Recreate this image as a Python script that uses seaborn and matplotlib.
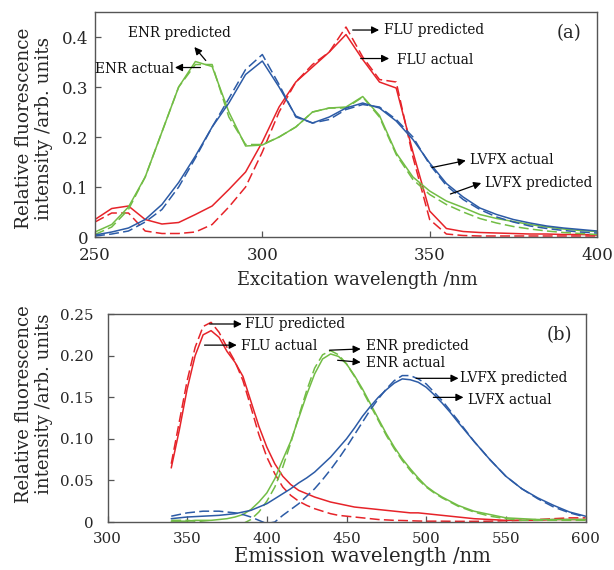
import matplotlib
matplotlib.use("Agg")
import matplotlib.pyplot as plt
import seaborn as sns
import numpy as np
import pandas as pd

# ---------------- data: panel (a) excitation ----------------
ex_wl = [250, 255, 260, 265, 270, 275, 280, 285, 290, 295, 300, 305, 310, 315, 320,
         325, 330, 335, 340, 345, 350, 355, 360, 365, 370, 375, 380, 385, 390, 395, 400]
ex_flu_actual = [0.035, 0.057, 0.062, 0.035, 0.026, 0.029, 0.045, 0.062, 0.095, 0.13, 0.19,
                 0.26, 0.31, 0.34, 0.37, 0.405, 0.355, 0.31, 0.298, 0.17, 0.052, 0.017, 0.011,
                 0.009, 0.008, 0.007, 0.006, 0.006, 0.005, 0.005, 0.004]
ex_flu_pred = [0.03, 0.048, 0.048, 0.012, 0.007, 0.007, 0.01, 0.025, 0.06, 0.1, 0.17,
               0.25, 0.31, 0.345, 0.37, 0.42, 0.36, 0.315, 0.31, 0.16, 0.035, 0.006, 0.003,
               0.002, 0.002, 0.002, 0.002, 0.002, 0.002, 0.002, 0.002]
ex_enr_actual = [0.01, 0.025, 0.06, 0.12, 0.21, 0.3, 0.351, 0.341, 0.25, 0.182, 0.184,
                 0.2, 0.22, 0.25, 0.258, 0.26, 0.281, 0.243, 0.168, 0.12, 0.092, 0.072,
                 0.059, 0.045, 0.037, 0.031, 0.025, 0.02, 0.016, 0.013, 0.011]
ex_enr_pred = [0.005, 0.02, 0.055, 0.12, 0.21, 0.3, 0.345, 0.345, 0.24, 0.185, 0.185,
               0.2, 0.22, 0.25, 0.258, 0.258, 0.28, 0.24, 0.165, 0.115, 0.085, 0.065,
               0.05, 0.037, 0.028, 0.021, 0.016, 0.012, 0.009, 0.007, 0.005]
ex_lvfx_actual = [0.004, 0.01, 0.018, 0.035, 0.065, 0.109, 0.162, 0.22, 0.268, 0.325, 0.352,
                  0.3, 0.242, 0.228, 0.24, 0.258, 0.268, 0.258, 0.232, 0.195, 0.148, 0.107,
                  0.08, 0.058, 0.045, 0.035, 0.028, 0.022, 0.018, 0.015, 0.012]
ex_lvfx_pred = [0.002, 0.006, 0.012, 0.03, 0.055, 0.1, 0.158, 0.22, 0.277, 0.335, 0.365,
                0.305, 0.24, 0.228, 0.235, 0.255, 0.265, 0.26, 0.235, 0.2, 0.145, 0.103,
                0.075, 0.055, 0.04, 0.03, 0.022, 0.017, 0.013, 0.01, 0.008]

# ---------------- data: panel (b) emission ----------------
em_wl = [340, 345, 350, 355, 360, 365, 370, 375, 380, 385, 390, 395, 400, 405, 410, 415,
         420, 425, 430, 435, 440, 445, 450, 455, 460, 465, 470, 475, 480, 485, 490, 495,
         500, 505, 510, 515, 520, 530, 540, 550, 560, 570, 580, 590, 600]
em_flu_actual = [0.065, 0.11, 0.16, 0.2, 0.225, 0.23, 0.222, 0.205, 0.192, 0.175, 0.145,
                 0.115, 0.09, 0.07, 0.055, 0.045, 0.038, 0.034, 0.03, 0.027, 0.024, 0.022,
                 0.02, 0.018, 0.017, 0.016, 0.015, 0.014, 0.013, 0.012, 0.011, 0.011,
                 0.01, 0.009, 0.008, 0.007, 0.006, 0.004, 0.003, 0.002, 0.002, 0.002,
                 0.003, 0.003, 0.003]
em_flu_pred = [0.07, 0.12, 0.17, 0.21, 0.235, 0.24, 0.228, 0.21, 0.193, 0.17, 0.138,
               0.105, 0.078, 0.058, 0.042, 0.032, 0.025, 0.02, 0.016, 0.013, 0.01, 0.008,
               0.007, 0.006, 0.005, 0.004, 0.003, 0.0025, 0.002, 0.0018, 0.0015, 0.0012,
               0.001, 0.001, 0.001, 0.0009, 0.0008, 0.0008, 0.001, 0.0015, 0.002, 0.003,
               0.004, 0.005, 0.005]
em_enr_actual = [0.001, 0.001, 0.001, 0.002, 0.002, 0.002, 0.003, 0.004, 0.006, 0.009,
                 0.015, 0.024, 0.035, 0.052, 0.075, 0.097, 0.125, 0.153, 0.178, 0.196,
                 0.202, 0.199, 0.19, 0.176, 0.16, 0.142, 0.124, 0.106, 0.09, 0.076, 0.064,
                 0.053, 0.043, 0.036, 0.03, 0.025, 0.02, 0.013, 0.009, 0.005, 0.004,
                 0.003, 0.003, 0.003, 0.003]
em_enr_pred = [0.002, 0.002, 0.002, 0.001, 0.0, -0.001, -0.002, -0.003, -0.003, -0.002,
               0.003, 0.012, 0.025, 0.042, 0.066, 0.095, 0.127, 0.158, 0.185, 0.201,
               0.206, 0.201, 0.19, 0.175, 0.158, 0.14, 0.122, 0.104, 0.088, 0.074, 0.062,
               0.051, 0.042, 0.035, 0.029, 0.024, 0.019, 0.012, 0.007, 0.004, 0.002,
               0.002, 0.002, 0.002, 0.002]
em_lvfx_actual = [0.004, 0.005, 0.006, 0.0065, 0.007, 0.0075, 0.008, 0.009, 0.01, 0.012,
                  0.014, 0.018, 0.022, 0.028, 0.034, 0.04, 0.047, 0.053, 0.06, 0.069,
                  0.078, 0.089, 0.1, 0.113, 0.127, 0.139, 0.15, 0.159, 0.167, 0.172,
                  0.171, 0.168, 0.162, 0.153, 0.143, 0.132, 0.12, 0.097, 0.075, 0.055,
                  0.04, 0.029, 0.02, 0.012, 0.007]
em_lvfx_pred = [0.007, 0.009, 0.011, 0.012, 0.013, 0.013, 0.013, 0.012, 0.011, 0.009,
                0.006, 0.002, -0.002, 0.0, 0.008, 0.015, 0.022, 0.031, 0.04, 0.051,
                0.063, 0.076, 0.09, 0.105, 0.12, 0.135, 0.148, 0.16, 0.17, 0.176,
                0.176, 0.172, 0.166, 0.156, 0.146, 0.134, 0.122, 0.097, 0.075, 0.055,
                0.04, 0.028, 0.018, 0.011, 0.006]

ex_yticks = [0, 0.1, 0.2, 0.3, 0.4]
ex_yticklabels = ["0", "0.1", "0.2", "0.3", "0.4"]
ex_xticks = [250, 300, 350, 400]
em_yticks = [0, 0.05, 0.10, 0.15, 0.20, 0.25]
em_yticklabels = ["0", "0.05", "0.10", "0.15", "0.20", "0.25"]
em_xticks = [300, 350, 400, 450, 500, 550, 600]

RED = "#e62329"
GREEN = "#72bd45"
BLUE = "#2c5ba6"

sns.set_style("ticks")
plt.rcParams["font.family"] = ["DejaVu Serif"]
plt.rcParams["mathtext.fontset"] = "dejavuserif"

fig = plt.figure(figsize=(6.14, 5.70), dpi=100)
ax1 = fig.add_axes([0.1547, 0.5842, 0.8176, 0.3947])
ax2 = fig.add_axes([0.1751, 0.0842, 0.7785, 0.3649])

DASH = (0, (6.5, 2.8))
LW = 1.1

def draw(ax, x, series):
    for y, color, ls in series:
        sns.lineplot(x=x, y=y, ax=ax, color=color, linewidth=LW,
                     estimator=None, sort=False)
        ax.lines[-1].set_linestyle(ls)

draw(ax1, ex_wl, [
    (ex_flu_actual, RED, "-"), (ex_flu_pred, RED, DASH),
    (ex_enr_actual, GREEN, "-"), (ex_enr_pred, GREEN, DASH),
    (ex_lvfx_actual, BLUE, "-"), (ex_lvfx_pred, BLUE, DASH),
])
draw(ax2, em_wl, [
    (em_flu_actual, RED, "-"), (em_flu_pred, RED, DASH),
    (em_enr_actual, GREEN, "-"), (em_enr_pred, GREEN, DASH),
    (em_lvfx_actual, BLUE, "-"), (em_lvfx_pred, BLUE, DASH),
])

ANN_FS = 9.8
SPINE = "#555555"
YLAB = "Relative fluorescence\nintensity /arb. units"

for ax in (ax1, ax2):
    for s in ax.spines.values():
        s.set_visible(True)
        s.set_color(SPINE)
        s.set_linewidth(1.0)

ax1.tick_params(direction="in", length=4, width=0.9, color=SPINE, labelsize=12)
ax1.tick_params(axis="x", pad=7)
ax1.tick_params(axis="y", pad=5)
ax2.tick_params(direction="in", length=4, width=0.9, color=SPINE, labelsize=10.8)
ax2.tick_params(axis="x", pad=7)
ax2.tick_params(axis="y", pad=10)

ax1.set_xlim(250, 400)
ax1.set_ylim(0, 0.45)
ax1.set_xticks(ex_xticks)
ax1.set_xticklabels([str(v) for v in ex_xticks])
ax1.set_yticks(ex_yticks)
ax1.set_yticklabels(ex_yticklabels)
ax1.set_xlabel("Excitation wavelength /nm", fontsize=12.9)
ax1.set_ylabel(YLAB, fontsize=13.3, linespacing=1.15)

ax2.set_xlim(300, 600)
ax2.set_ylim(0, 0.25)
ax2.set_xticks(em_xticks)
ax2.set_xticklabels([str(v) for v in em_xticks])
ax2.set_yticks(em_yticks)
ax2.set_yticklabels(em_yticklabels)
ax2.set_xlabel("Emission wavelength /nm", fontsize=14.2)
ax2.set_ylabel(YLAB, fontsize=13.1, linespacing=1.15)

ax1.xaxis.set_label_coords(0.523, -0.15)
ax2.xaxis.set_label_coords(0.533, -0.12)
ax1.yaxis.set_label_coords(-0.084, 0.482)
ax2.yaxis.set_label_coords(-0.114, 0.567)

arrow = dict(arrowstyle="-|>", color="black", lw=0.9, mutation_scale=11,
             shrinkA=0, shrinkB=0)

def label(ax, text, tail, head, tx, ty, ha="left"):
    ax.annotate("", xy=head, xytext=tail, arrowprops=arrow)
    ax.text(tx, ty, text, fontsize=ANN_FS, ha=ha, va="center", color="#111111")

# panel (a) annotations
label(ax1, "ENR predicted", (283.1, 0.353), (279.7, 0.380), 275.3, 0.408, ha="center")
label(ax1, "ENR actual", (281.5, 0.339), (273.9, 0.339), 273.6, 0.337, ha="right")
label(ax1, "FLU predicted", (327.0, 0.414), (334.9, 0.414), 336.4, 0.414)
label(ax1, "FLU actual", (329.4, 0.357), (337.9, 0.357), 340.1, 0.355)
label(ax1, "LVFX actual", (350.7, 0.139), (360.8, 0.153), 362.0, 0.155)
label(ax1, "LVFX predicted", (356.2, 0.086), (365.4, 0.108), 366.6, 0.108)
ax1.text(387.9, 0.408, "(a)", fontsize=13, ha="left", va="center")

# panel (b) annotations
label(ax2, "FLU predicted", (364.1, 0.238), (384.3, 0.238), 386.2, 0.238)
label(ax2, "FLU actual", (360.9, 0.2126), (381.1, 0.2126), 383.7, 0.211)
label(ax2, "ENR predicted", (439.3, 0.2065), (458.9, 0.208), 462.1, 0.211)
label(ax2, "ENR actual", (444.4, 0.1944), (458.9, 0.192), 462.1, 0.191)
label(ax2, "LVFX predicted", (493.7, 0.1727), (520.3, 0.1727), 521.5, 0.1727)
label(ax2, "LVFX actual", (504.5, 0.1498), (523.4, 0.1498), 526.0, 0.147)
ax2.text(575.9, 0.2246, "(b)", fontsize=13, ha="left", va="center")

fig.savefig("out.png", dpi=100)
